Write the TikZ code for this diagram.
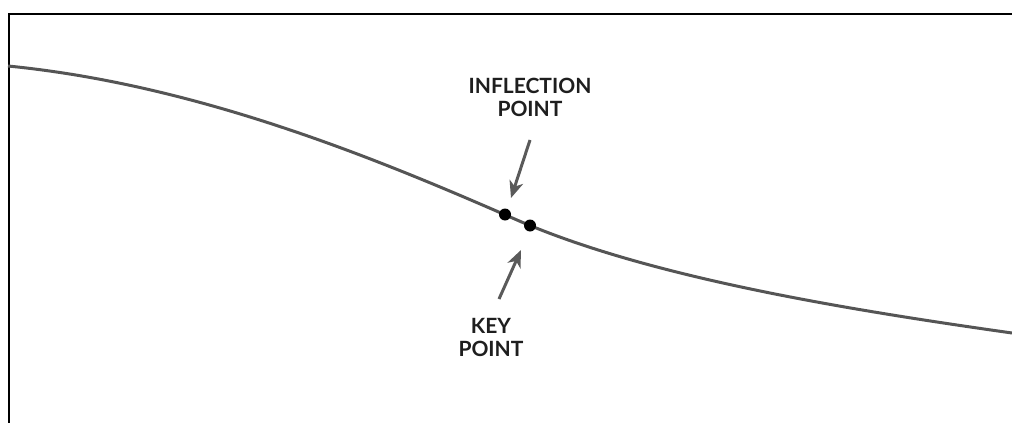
\documentclass[tikz,border=0pt]{standalone}
\usepackage{fontspec}
\setmainfont{Lato}
\usetikzlibrary{arrows.meta}
\definecolor{curvegray}{HTML}{555555}
\definecolor{arrowgray}{HTML}{5A5A5A}
\definecolor{txt}{HTML}{1E1E1E}
\begin{document}
\begin{tikzpicture}[x=1pt,y=-1pt,
  frame/.style={line width=2pt,black},
  curve/.style={line width=3pt,curvegray},
  dot/.style={circle,fill=black,inner sep=0pt,minimum size=12pt},
  pointer/.style={line width=3pt,arrowgray,-{Stealth[length=17pt,width=14pt,inset=5pt]}},
  lbl/.style={font=\bfseries\fontsize{21}{23}\selectfont,text=txt,align=center,inner sep=0pt}]
\useasboundingbox (0,0) rectangle (1012,423);
\draw[frame] (8.5,423) -- (8.5,13.5) -- (1012,13.5);
\draw[curve] (8,66) .. controls (200,85) and (380,160) .. (517,220)
  .. controls (650,278) and (850,310) .. (1012,333);
\node[dot] (infl) at (505,214.5) {};
\node[dot] (key) at (530,225.5) {};
\node[lbl] (ilbl) at (530,97) {INFLECTION\\POINT};
\node[lbl] (klbl) at (491,337) {KEY\\POINT};
\coordinate (itail) at (530,140);
\coordinate (itip) at (511,198);
\coordinate (ktail) at (499,299);
\coordinate (ktip) at (521,250);
\draw[pointer] (itail) -- (itip);
\draw[pointer] (ktail) -- (ktip);
\end{tikzpicture}
\end{document}
